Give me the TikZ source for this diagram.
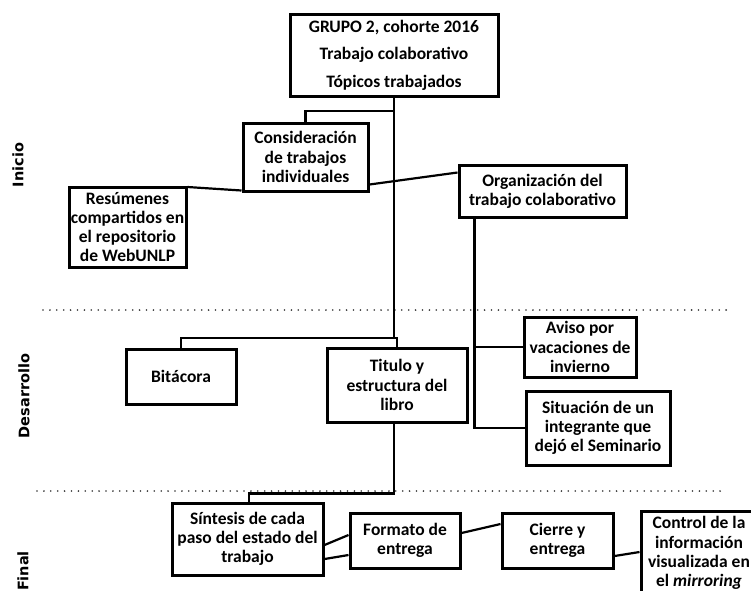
\documentclass[tikz,border=0pt]{standalone}
\usepackage{fontspec}
\setmainfont{Carlito}
\newfontfamily\sidefont{DejaVu Sans}
\usetikzlibrary{shadows}
\begin{document}
\begin{tikzpicture}[x=1pt,y=-1pt,
  box/.style={draw, line width=3pt, fill=white, inner sep=0pt, align=center,
    font=\bfseries\fontsize{17.5}{19.2}\selectfont,
    drop shadow={shadow xshift=1.5pt, shadow yshift=-1.5pt, opacity=0.35}},
  conn/.style={line width=2.2pt},
  dots/.style={line width=1.8pt, line cap=round, dash pattern=on 0pt off 6.9pt, black!80},
  side/.style={rotate=90, font=\sidefont\bfseries\fontsize{14.5}{17}\selectfont}]
\useasboundingbox (0,0) rectangle (751,590);
\fill[white] (0,0) rectangle (751,590);

% phase separators
\draw[dots] (43,310) -- (731,310);
\draw[dots] (37,491) -- (726,491);

% side labels
\node[side] (lini) at (18,165) {Inicio};
\node[side] (ldes) at (24,396) {Desarrollo};
\node[side] (lfin) at (23,571) {Final};

% boxes
\node[box, minimum width=208pt, minimum height=82pt] (top) at (394,55)
  {GRUPO 2, cohorte 2016\\[8.3pt]Trabajo colaborativo\\[8.3pt]Tópicos trabajados};
\node[box, minimum width=125pt, minimum height=68pt] (cons) at (305.5,157)
  {Consideración\\de trabajos\\individuales};
\node[box, minimum width=117pt, minimum height=80pt] (res) at (127.5,227)
  {Resúmenes\\compartidos en\\el repositorio\\de WebUNLP};
\node[box, minimum width=167pt, minimum height=52pt] (org) at (542.5,191)
  {Organización del\\trabajo colaborativo};
\node[box, minimum width=110pt, minimum height=55pt] (bit) at (181,376.5)
  {Bitácora};
\node[box, minimum width=140pt, minimum height=74pt] (tit) at (397,385)
  {Titulo y\\estructura del\\libro};
\node[box, minimum width=112pt, minimum height=60pt] (aviso) at (580,347)
  {Aviso por\\vacaciones de\\invierno};
\node[box, minimum width=144pt, minimum height=74pt] (sit) at (598,428)
  {Situación de un\\integrante que\\dejó el Seminario};
\node[box, minimum width=151pt, minimum height=72pt] (sin) at (247.5,539)
  {Síntesis de cada\\paso del estado del\\trabajo};
\node[box, minimum width=110pt, minimum height=55pt] (form) at (405,540.5)
  {Formato de\\entrega};
\node[box, minimum width=111pt, minimum height=55pt] (cierre) at (557.5,540.5)
  {Cierre y\\entrega};
\node[box, minimum width=116pt, minimum height=84pt] (ctrl) at (699,553)
  {Control de la\\información\\visualizada en\\el \textit{mirroring}};

% connectors
\coordinate (j0) at (394,111);
\coordinate (j1) at (394,338);
\draw[conn] (top.south) -- (j1);
\draw[conn] (j0) -| (cons.north);
\draw[conn] (bit.north) |- (j1) -| (tit.north);
\draw[conn] ([yshift=-1.5pt]res.north east) -- ([yshift=2pt]cons.south west);
\draw[conn] ([yshift=8pt]cons.south east) -- ([yshift=-9pt]org.north west);
\coordinate (orgb) at ([xshift=17pt]org.south west);
\draw[conn] (orgb) |- (sit.west);
\draw[conn] (aviso.west) -- (aviso.west -| orgb);
\draw[conn] ([xshift=-3pt]tit.south) -- ++(0,70) -| ([xshift=1.5pt]sin.north);
\draw[conn] ([yshift=-6pt]sin.east) -- ([yshift=5.5pt]form.west);
\draw[conn] ([yshift=-20pt]sin.east) -- ([yshift=-14.5pt]form.west);
\draw[conn] ([yshift=7.5pt]form.east) -- ([yshift=16.5pt]cierre.west);
\draw[conn] ([yshift=-15.5pt]cierre.east) -- ([yshift=1pt]ctrl.west);
\end{tikzpicture}
\end{document}
